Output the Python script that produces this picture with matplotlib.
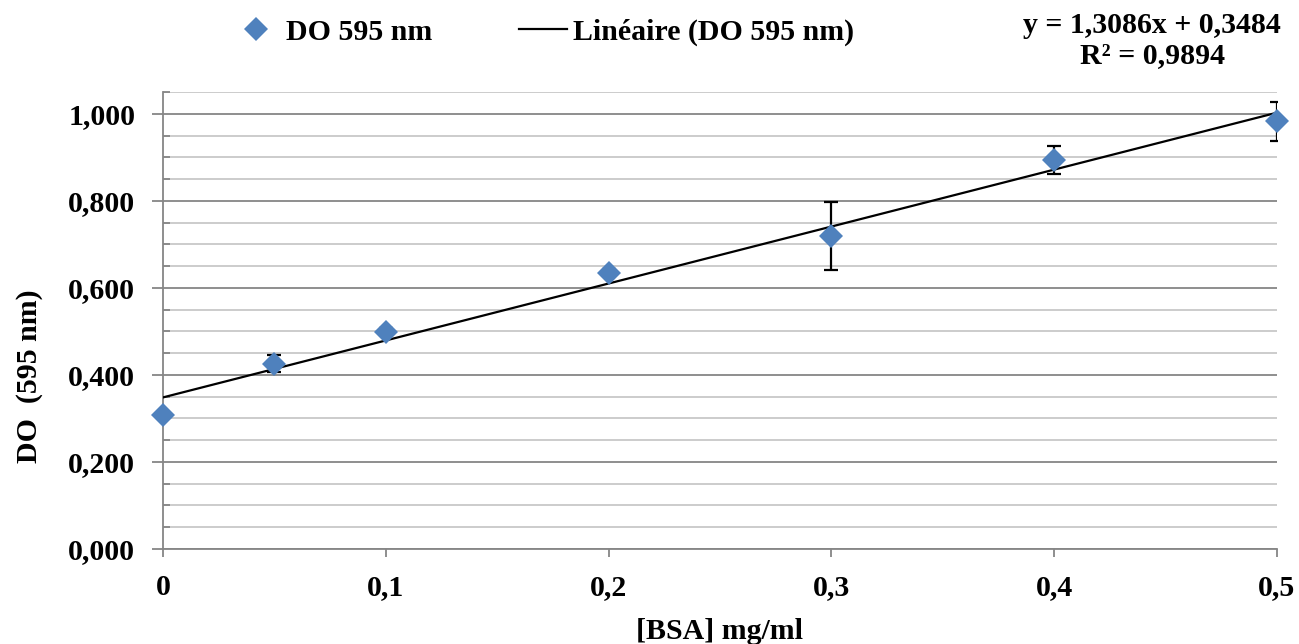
"""
Courbe d'étalonnage BSA (DO 595 nm) avec droite de régression.
"""
import matplotlib
matplotlib.use("Agg")
import matplotlib.pyplot as plt
import numpy as np
from matplotlib.ticker import FuncFormatter, MultipleLocator

plt.rcParams["font.family"] = ["Liberation Serif", "DejaVu Serif"]
plt.rcParams["font.weight"] = "bold"

# données
bsa = [0, 0.05, 0.1, 0.2, 0.3, 0.4, 0.5]
do595 = [0.308, 0.426, 0.499, 0.635, 0.720, 0.893, 0.983]
erreur = [0.004, 0.020, 0.008, 0.008, 0.078, 0.032, 0.045]

pente, ordonnee = 1.3086, 0.3484
r2 = 0.9894

BLEU = "#4F81BD"
FS = 21.5

fig = plt.figure(figsize=(12.99, 6.44), dpi=100)
ax = fig.add_axes([0.1255, 0.1475, 0.8575, 0.7095])

x_fit = np.array([min(bsa), max(bsa)])
ligne, = ax.plot(x_fit, pente * x_fit + ordonnee, color="black", lw=1.6,
                 zorder=3, label="Linéaire (DO 595 nm)")
ax.errorbar(bsa, do595, yerr=erreur, fmt="none", ecolor="black",
            elinewidth=1.6, capsize=5, capthick=1.6, zorder=4)
points, = ax.plot(bsa, do595, "D", color=BLEU, markersize=12,
                  markeredgewidth=0, zorder=5, label="DO 595 nm",
                  clip_on=False)

ax.set_xlim(0, 0.5)
ax.set_ylim(0, 1.05)
ax.xaxis.set_major_locator(MultipleLocator(0.1))
ax.yaxis.set_major_locator(MultipleLocator(0.2))
ax.yaxis.set_minor_locator(MultipleLocator(0.05))

ax.xaxis.set_major_formatter(FuncFormatter(
    lambda v, p: "0" if abs(v) < 1e-9 else f"{v:.1f}".replace(".", ",")))
ax.yaxis.set_major_formatter(FuncFormatter(
    lambda v, p: f"{v:.3f}".replace(".", ",")))

ax.grid(axis="y", which="major", color="#868686", lw=1.3, zorder=0)
ax.grid(axis="y", which="minor", color="#C8C8C8", lw=1.3, zorder=0)
ax.set_axisbelow(True)

for s in ["top", "right"]:
    ax.spines[s].set_visible(False)
for s in ["left", "bottom"]:
    ax.spines[s].set_color("#868686")
    ax.spines[s].set_linewidth(1.3)

ax.tick_params(axis="both", which="major", direction="out", color="#868686",
               width=1.3, labelsize=FS)
ax.tick_params(axis="y", which="major", length=8, pad=12)
ax.tick_params(axis="x", which="major", length=6, pad=12)
ax.tick_params(axis="y", which="minor", direction="in", length=5,
               color="#868686", width=1.3)
for lab in ax.get_xticklabels() + ax.get_yticklabels():
    lab.set_fontweight("bold")

ax.set_xlabel("[BSA] mg/ml", fontsize=FS, fontweight="bold", labelpad=12)
ax.set_ylabel("DO  (595 nm)", fontsize=FS, fontweight="bold")
ax.yaxis.set_label_coords(-0.108, 0.378)

fig.legend(handles=[points, ligne], loc="center", ncol=2,
           bbox_to_anchor=(0.418, 0.95), frameon=False,
           prop={"size": FS, "weight": "bold"}, handlelength=1.6,
           handletextpad=0.2, columnspacing=2.9)

fig.text(0.887, 0.96, f"y = {pente:.4f}x + {ordonnee:.4f}".replace(".", ","),
         ha="center", va="center", fontsize=FS, fontweight="bold")
fig.text(0.887, 0.913, f"R² = {r2:.4f}".replace(".", ","),
         ha="center", va="center", fontsize=FS, fontweight="bold")

fig.savefig("out.png", dpi=100)
